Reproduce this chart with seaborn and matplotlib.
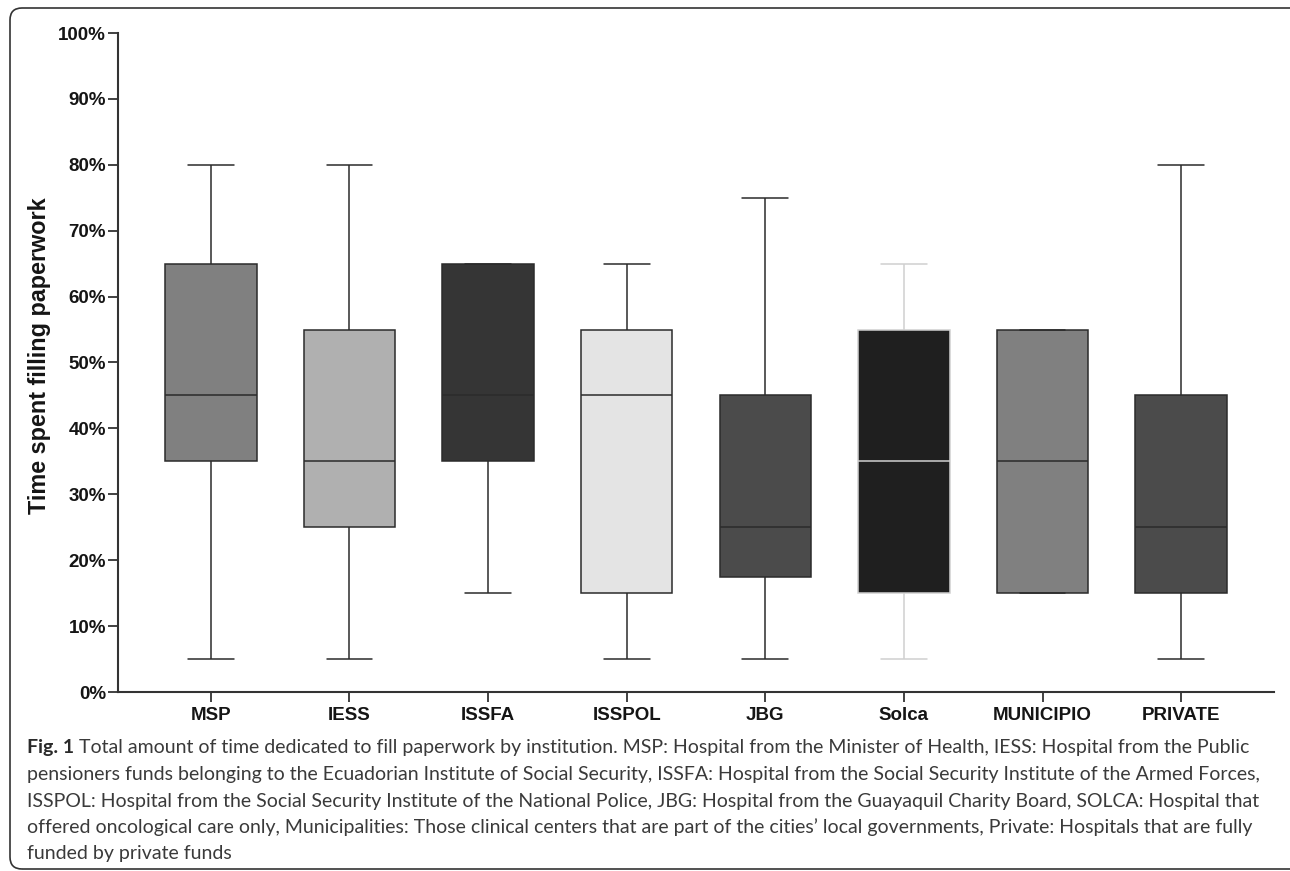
import numpy as np
import pandas as pd
import matplotlib
matplotlib.use("Agg")
import matplotlib.pyplot as plt
import seaborn as sns
from matplotlib.patches import FancyBboxPatch

# ---------------- data (five-number summaries) ----------------
institutions = ["MSP", "IESS", "ISSFA", "ISSPOL", "JBG", "Solca", "MUNICIPIO", "PRIVATE"]
minimum = [5, 5, 15, 5, 5, 5, 15, 5]
q1 = [35, 25, 35, 15, 17.5, 15, 15, 15]
median = [45, 35, 45, 45, 25, 35, 35, 25]
q3 = [65, 55, 65, 55, 45, 55, 55, 45]
maximum = [80, 80, 65, 65, 75, 65, 55, 80]

box_colors = ["#808080", "#b0b0b0", "#353535", "#e4e4e4",
              "#4b4b4b", "#1f1f1f", "#808080", "#4b4b4b"]
line_colors = ["#2b2b2b", "#2b2b2b", "#2b2b2b", "#2b2b2b",
               "#2b2b2b", "#d0d0d0", "#2b2b2b", "#2b2b2b"]

yticks = list(range(0, 101, 10))
ytick_labels = [f"{v}%" for v in yticks]
y_label = "Time spent filling paperwork"

caption_bold = "Fig. 1"
caption_lines = [
    "Total amount of time dedicated to fill paperwork by institution. MSP: Hospital from the Minister of Health, IESS: Hospital from the Public",
    "pensioners funds belonging to the Ecuadorian Institute of Social Security, ISSFA: Hospital from the Social Security Institute of the Armed Forces,",
    "ISSPOL: Hospital from the Social Security Institute of the National Police, JBG: Hospital from the Guayaquil Charity Board, SOLCA: Hospital that",
    "offered oncological care only, Municipalities: Those clinical centers that are part of the cities\u2019 local governments, Private: Hospitals that are fully",
    "funded by private funds",
]

# Long-form table: with five values per group, seaborn's quartiles equal the summary
rows = []
for name, a, b, c, d, e in zip(institutions, minimum, q1, median, q3, maximum):
    for v in (a, b, c, d, e):
        rows.append({"institution": name, "value": v})
df = pd.DataFrame(rows)

# ---------------- figure ----------------
sns.set_style("ticks")
plt.rcParams["font.family"] = ["Liberation Sans", "DejaVu Sans"]

W, H = 1290, 871
fig = plt.figure(figsize=(W / 100, H / 100), dpi=100)
ax = fig.add_axes([118 / W, 1 - 692 / H, (1274 - 118) / W, (692 - 33) / H])

sns.boxplot(
    data=df, x="institution", y="value", hue="institution",
    order=institutions, hue_order=institutions,
    palette=dict(zip(institutions, box_colors)),
    whis=(0, 100), width=0.66, linewidth=1.1, linecolor="#2b2b2b",
    saturation=1, dodge=False, legend=False, showfliers=False, ax=ax,
)

# per-box line colours (Solca uses light grey outlines)
for cont, lc in zip(ax.containers, line_colors):
    for art in list(cont.boxes):
        art.set_edgecolor(lc)
    for grp in (cont.whiskers, cont.caps, cont.medians):
        for ln in grp:
            ln.set_color(lc)

ax.set_xlim(-0.67, len(institutions) - 1 + 0.67)
ax.set_ylim(0, 100)
ax.set_yticks(yticks)
ax.set_yticklabels(ytick_labels)
ax.set_xlabel("")
ax.set_ylabel("")

for s in ("top", "right"):
    ax.spines[s].set_visible(False)
for s in ("left", "bottom"):
    ax.spines[s].set_color("#333333")
    ax.spines[s].set_linewidth(1.5)

ax.tick_params(axis="both", direction="out", length=7, width=1.3, color="#333333")
ax.tick_params(axis="y", pad=1.5)
ax.tick_params(axis="x", pad=4)
for lab in ax.get_yticklabels():
    lab.set_fontsize(13.5)
    lab.set_fontweight("bold")
    lab.set_color("#151515")
for lab in ax.get_xticklabels():
    lab.set_fontsize(13.5)
    lab.set_fontweight("bold")
    lab.set_color("#151515")

fig.text(40 / W, 1 - 356 / H, y_label, rotation=90, ha="center", va="center",
         fontsize=16.8, fontweight="bold", color="#151515")

# ---------------- caption ----------------
cap_family = ["Lato", "DejaVu Sans"]
renderer = fig.canvas.get_renderer()
x0 = 27
baselines = [753, 780, 807, 833, 859]

probe_b = fig.text(0, 0, caption_bold + " ", family=cap_family, fontweight="bold", fontsize=10)
probe_r = fig.text(0, 0, caption_lines[0], family=cap_family, fontsize=10)
wb = probe_b.get_window_extent(renderer).width
wr = probe_r.get_window_extent(renderer).width
probe_b.remove()
probe_r.remove()
target = 1248 - x0
fs = 10 * target / (wb + wr)

fig.text(x0 / W, 1 - baselines[0] / H, caption_bold, family=cap_family,
         fontweight="bold", fontsize=fs, color="#2a2a2a", va="baseline", ha="left")
wbold = fig.text(0, 0, caption_bold + " ", family=cap_family, fontweight="bold",
                 fontsize=fs)
wpx = wbold.get_window_extent(renderer).width
wbold.remove()
fig.text((x0 + wpx) / W, 1 - baselines[0] / H, caption_lines[0], family=cap_family,
         fontsize=fs, color="#3a3a3a", va="baseline", ha="left")
for line, yb in zip(caption_lines[1:], baselines[1:]):
    fig.text(x0 / W, 1 - yb / H, line, family=cap_family, fontsize=fs,
             color="#3a3a3a", va="baseline", ha="left")

# ---------------- outer rounded frame ----------------
frame = FancyBboxPatch((10, H - 869), 1300, 869 - 8,
                       boxstyle="round,pad=0,rounding_size=12",
                       transform=None, fill=False, edgecolor="#333333",
                       linewidth=1.2, clip_on=False)
fig.add_artist(frame)

fig.savefig("out.png", dpi=100)
